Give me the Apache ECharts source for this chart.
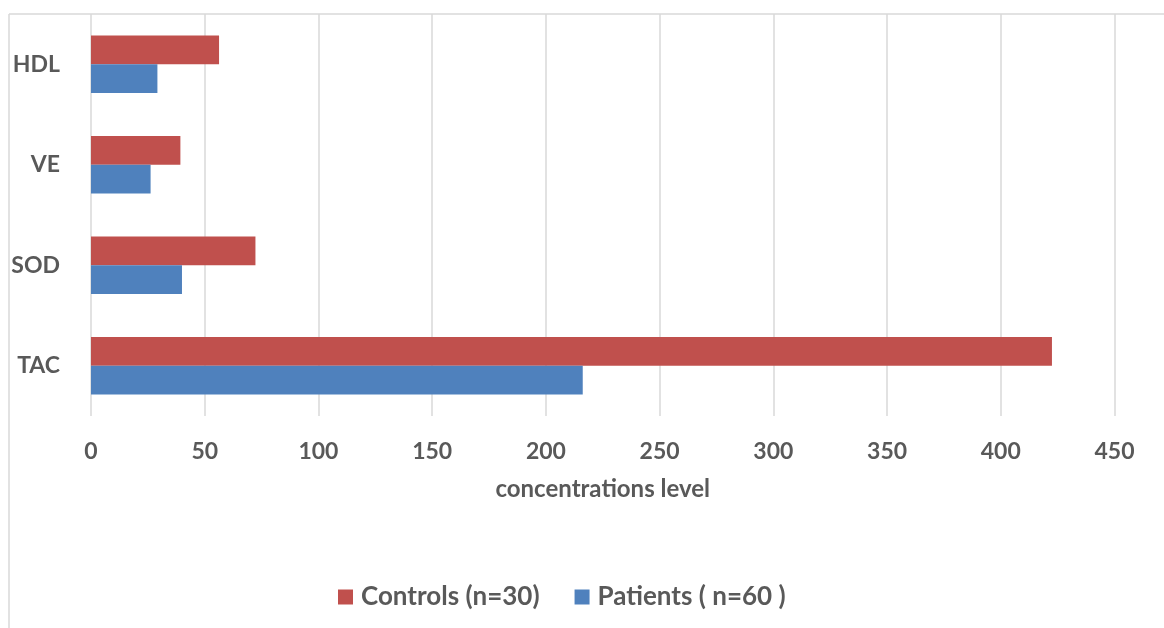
<!DOCTYPE html>
<html>
<head>
<meta charset="utf-8">
<script src="https://cdn.jsdelivr.net/npm/echarts@6/dist/echarts.min.js"></script>
<style>
  html, body { margin: 0; padding: 0; background: #fff; }
  #chart { width: 1164px; height: 628px; }
</style>
</head>
<body>
<div id="chart"></div>
<script>
// Markers, listed from the bottom of the axis to the top
const categories = ['TAC', 'SOD', 'VE', 'HDL'];
const controls = [422.5, 72.3, 39.3, 56.3];
const patients = [216.2, 40.0, 26.2, 29.2];
const seriesNames = ['Controls (n=30)', 'Patients ( n=60 )'];
const axisTitle = 'concentrations level';

const FONT = 'Lato';
const TEXT = '#595959';
const GRID = '#D9D9D9';

const chart = echarts.init(document.getElementById('chart'));
chart.setOption({
  animation: false,
  backgroundColor: '#fff',
  textStyle: { fontFamily: FONT },
  graphic: [
    // outer chart frame (top and left edges)
    { type: 'line', shape: { x1: 9, y1: 14, x2: 1164, y2: 14 }, style: { stroke: GRID, lineWidth: 1.5 }, silent: true },
    { type: 'line', shape: { x1: 9, y1: 14, x2: 9, y2: 628 }, style: { stroke: GRID, lineWidth: 1.5 }, silent: true }
  ],
  grid: { left: 91, right: 49.5, top: 14, bottom: 212, containLabel: false },
  legend: {
    left: 333, top: 579,
    itemWidth: 15, itemHeight: 15, itemGap: 35,
    icon: 'rect',
    textStyle: { color: TEXT, fontFamily: FONT, fontWeight: 'bold', fontSize: 26, padding: [0, 0, 0, 3] },
    data: seriesNames
  },
  xAxis: {
    type: 'value', min: 0, max: 450, interval: 50,
    name: axisTitle, nameLocation: 'middle', nameGap: 61,
    nameTextStyle: { color: TEXT, fontFamily: FONT, fontWeight: 'bold', fontSize: 24 },
    axisLine: { show: false }, axisTick: { show: false },
    axisLabel: { color: TEXT, fontFamily: FONT, fontWeight: 'bold', fontSize: 23, margin: 24 },
    splitLine: { show: true, lineStyle: { color: GRID, width: 1.5 } }
  },
  yAxis: {
    type: 'category', data: categories,
    axisLine: { show: false }, axisTick: { show: false },
    axisLabel: { color: TEXT, fontFamily: FONT, fontWeight: 'bold', fontSize: 23, margin: 31 }
  },
  series: [
    { name: seriesNames[0], type: 'bar', data: controls, barGap: '0%', barCategoryGap: '43%',
      itemStyle: { color: '#C0504D' } },
    { name: seriesNames[1], type: 'bar', data: patients, barGap: '0%', barCategoryGap: '43%',
      itemStyle: { color: '#4F81BD' } }
  ]
});
</script>
</body>
</html>
